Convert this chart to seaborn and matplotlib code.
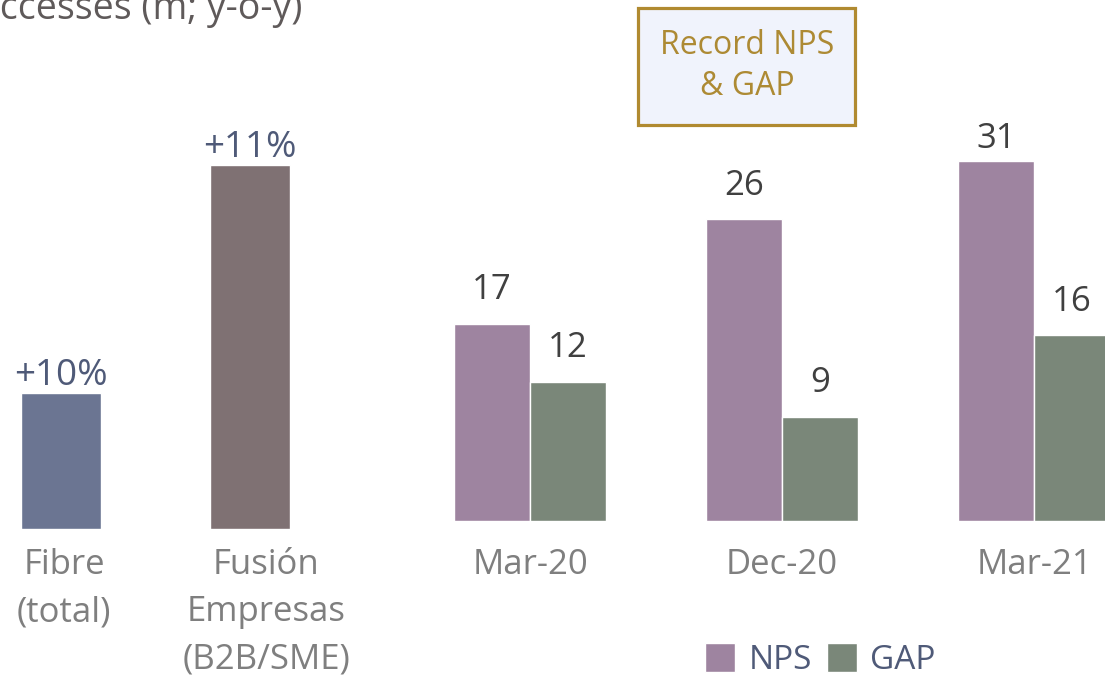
import pandas as pd
import matplotlib.pyplot as plt
import seaborn as sns
from matplotlib.patches import Rectangle
from matplotlib.transforms import ScaledTranslation

# Left panel: accesses (bar heights, relative scale) and y-o-y growth labels
access_cats = ['Fibre\n(total)', 'Fusión\nEmpresas\n(B2B/SME)']
access_height = [3.74, 10.0]
access_growth = ['+10%', '+11%']

# Right panel: NPS and GAP
periods = ['Mar-20', 'Dec-20', 'Mar-21']
nps = [17, 26, 31]
gap = [12, 9, 16]

sns.set_style('white')
plt.rcParams['font.family'] = ['Open Sans', 'DejaVu Sans']

W, H = 1105, 679
fig = plt.figure(figsize=(W / 100, H / 100), dpi=100)

label_grey = '#7f7f7f'
value_dark = '#404040'
growth_blue = '#4f5a78'

# Left: accesses
ax1 = fig.add_axes([0, (H - 529) / H, 380 / W, 529 / H])
sns.barplot(x=access_cats, y=access_height, hue=access_cats,
            palette=['#6b7592', '#7f7173'], width=80 / 189, legend=False,
            saturation=1, ax=ax1)
ax1.set_xlim(-61 / 189, (380 - 61) / 189)
ax1.set_ylim(0, 10.0 * 529 / 364)
for c, lab in zip(ax1.containers, access_growth):
    ax1.bar_label(c, labels=[lab], padding=-1, fontsize=26.5, color=growth_blue)

# Right: NPS / GAP
df = pd.DataFrame({
    'period': periods * 2,
    'metric': ['NPS'] * 3 + ['GAP'] * 3,
    'value': nps + gap,
})
ax2 = fig.add_axes([380 / W, (H - 521) / H, (W - 380) / W, 521 / H])
sns.barplot(data=df, x='period', y='value', hue='metric',
            palette=['#9e84a0', '#7a8779'], width=0.6, saturation=1,
            errorbar=None, ax=ax2)
ax2.set_xlim((380 - 530) / 252, (W - 530) / 252)
ax2.set_ylim(0, 521 / 11.6)
for c in ax2.containers:
    texts = ax2.bar_label(c, fmt='%d', padding=12, fontsize=25, color=value_dark)
    # the last NPS label sits closer to its bar
    if c is ax2.containers[0]:
        texts[-1].xyann = (0, 4)

handles, labels = ax2.get_legend_handles_labels()
ax2.get_legend().remove()

for ax, pad in [(ax1, 14), (ax2, 19.5)]:
    ax.set_xlabel('')
    ax.set_ylabel('')
    ax.set_yticks([])
    ax.tick_params(axis='x', length=0, pad=pad, labelsize=25, labelcolor=label_grey)
    for lab in ax.get_xticklabels():
        lab.set_linespacing(1.5)
    sns.despine(ax=ax, left=True, bottom=True)

# left-panel labels sit a little right of their bars
for lab, dx in zip(ax1.get_xticklabels(), [3, 16]):
    lab.set_transform(lab.get_transform() + ScaledTranslation(dx / 100, 0, fig.dpi_scale_trans))

# Partially cropped heading
fig.text(-24 / W, 1 - 19 / H, 'Accesses (m; y-o-y)', fontsize=27,
         color='#5f5a5a', ha='left', va='baseline')

# Highlight box
fig.patches.append(Rectangle((638 / W, 1 - 125 / H), (855 - 638) / W, (125 - 8) / H,
                             transform=fig.transFigure, facecolor='#f0f3fc',
                             edgecolor='#b08a30', linewidth=2.3))
fig.text(747 / W, 1 - 66 / H, 'Record NPS\n& GAP', fontsize=23, color='#ad8a34',
         ha='center', va='center', linespacing=1.35)

fig.legend(handles, labels, loc='lower left', bbox_to_anchor=(705 / W, 2 / H),
           ncol=2, frameon=False, fontsize=24, labelcolor=growth_blue,
           handlelength=0.9, handleheight=0.95, handletextpad=0.4,
           columnspacing=0.45, borderpad=0, borderaxespad=0)

plt.savefig('out.png', dpi=100)
plt.close()
